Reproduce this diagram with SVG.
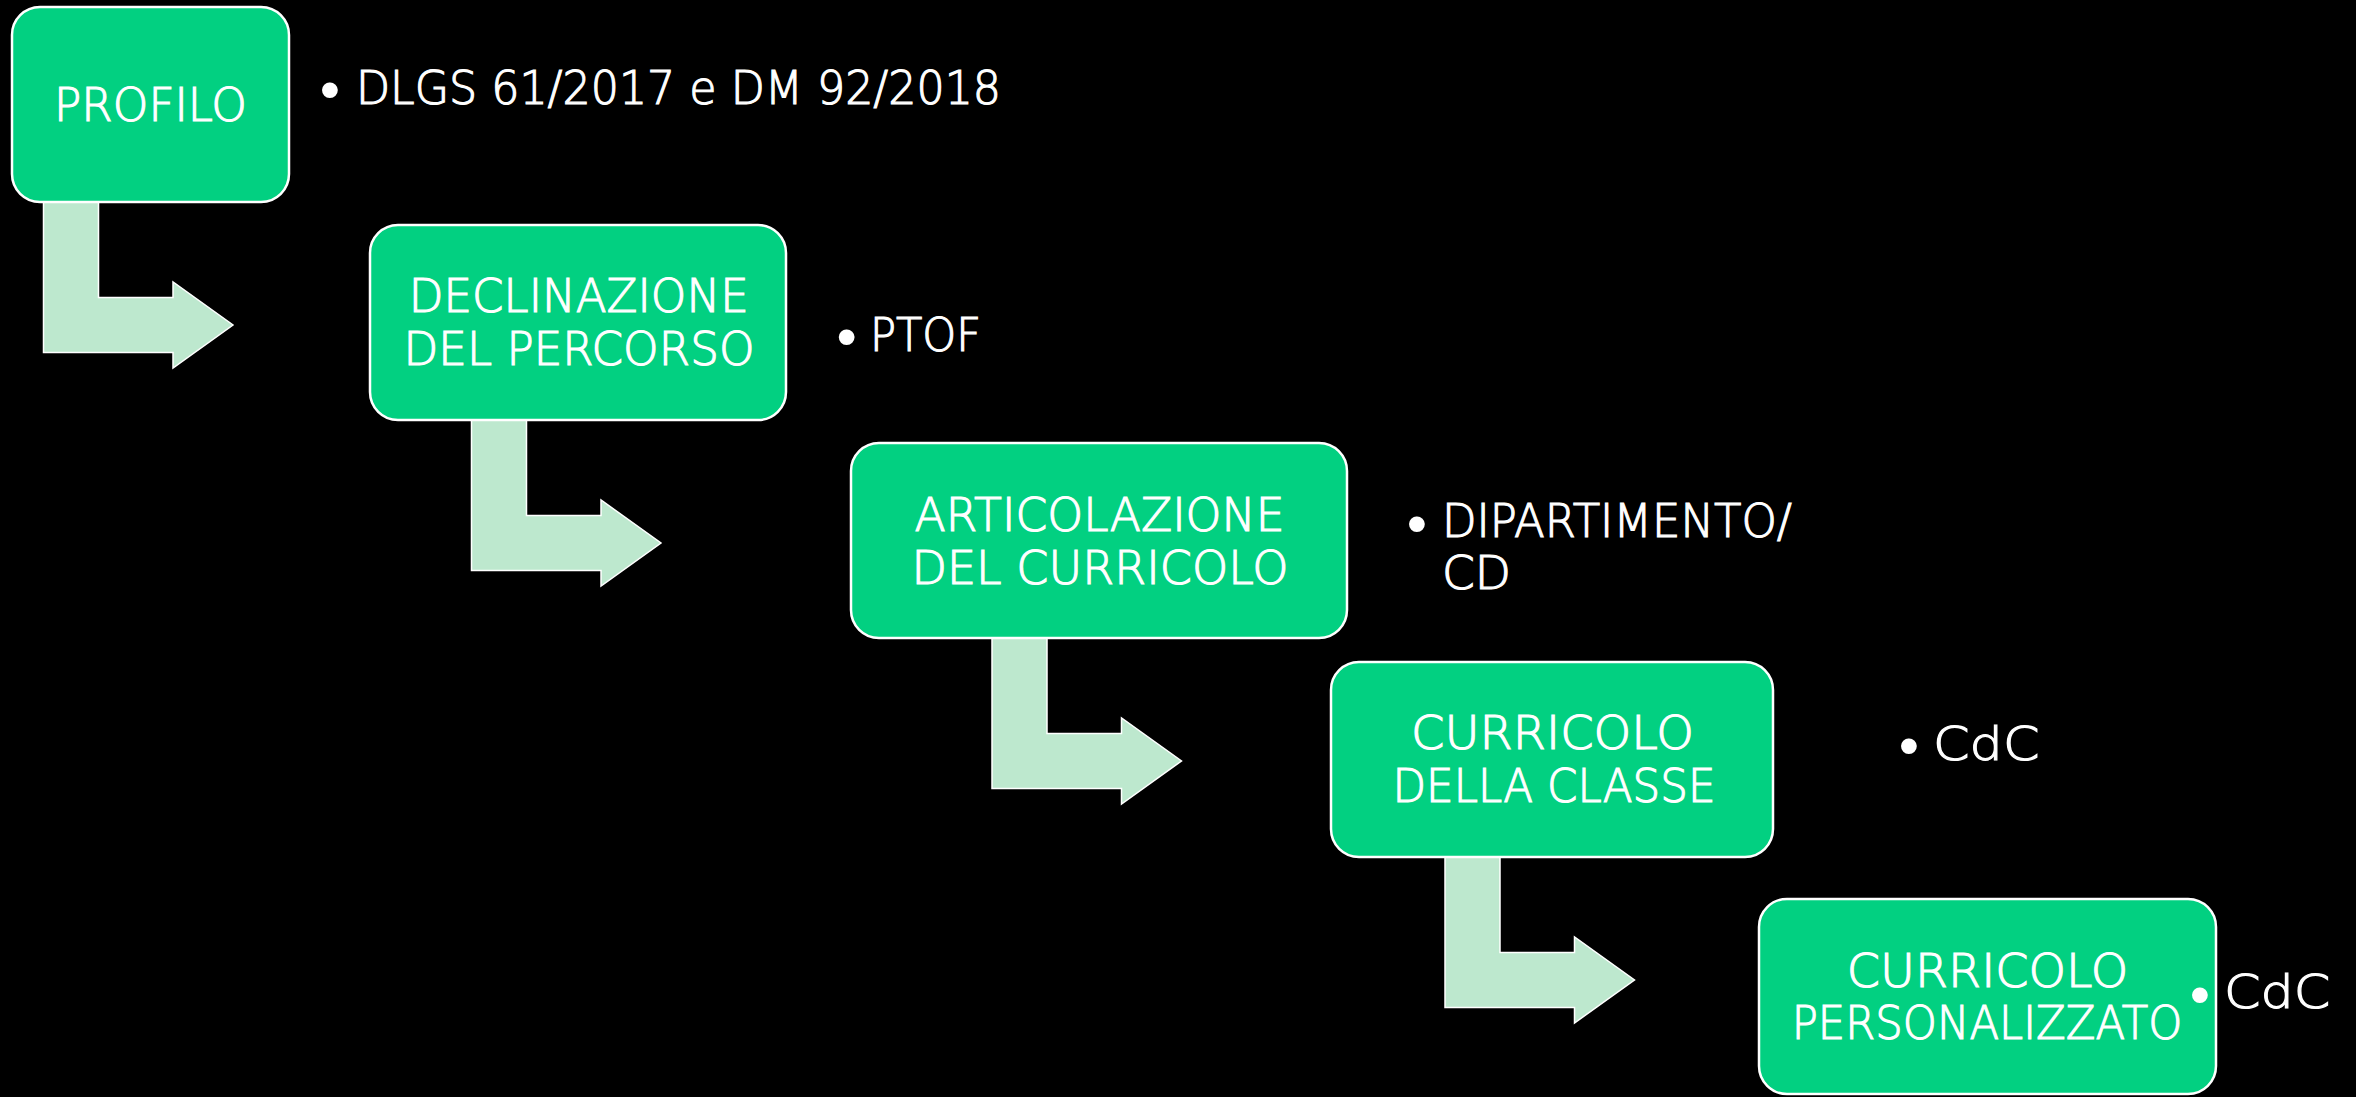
<svg xmlns="http://www.w3.org/2000/svg" width="2356" height="1097" viewBox="0 0 2356 1097">
<style>
.box{fill:#02D081;stroke:#FFFFFF;stroke-width:2.5}
.arr{fill:#BDE8CE;stroke:#FFFFFF;stroke-width:1.5}
.t{font-family:"DejaVu Sans","Liberation Sans",sans-serif;font-size:45.8px;font-weight:200;fill:#FFFFFF;text-anchor:middle;stroke:#FFFFFF;stroke-width:1.1px}
.b{font-family:"DejaVu Sans","Liberation Sans",sans-serif;font-size:45.5px;font-weight:200;fill:#FFFFFF;stroke:#FFFFFF;stroke-width:1.1px}
.dot{font-family:"Liberation Sans",Arial,sans-serif;font-size:58px;fill:#FFFFFF;text-anchor:middle}
</style>
<defs>
<path id="bent" d="M0,0 H55 V95.5 H129.5 V80 L189.5,123 L129.5,166 V150.5 H0 Z"/>
</defs>
<rect width="2356" height="1097" fill="#000000"/>
<g id="connectors">
<use href="#bent" class="arr" transform="translate(43.5,202)"/>
<use href="#bent" class="arr" transform="translate(471.5,420)"/>
<use href="#bent" class="arr" transform="translate(992,638)"/>
<use href="#bent" class="arr" transform="translate(1445,857)"/>
</g>
<g id="node-profilo">
<rect class="box" x="12" y="7" width="277" height="195" rx="28"/>
<text class="t" x="150.5" y="121" textLength="193" lengthAdjust="spacingAndGlyphs">PROFILO</text>
</g>
<g id="node-declinazione">
<rect class="box" x="370" y="225" width="416" height="195" rx="28"/>
<text class="t" x="578.7" y="312" textLength="340" lengthAdjust="spacingAndGlyphs">DECLINAZIONE</text>
<text class="t" x="579" y="365" textLength="351" lengthAdjust="spacingAndGlyphs">DEL PERCORSO</text>
</g>
<g id="node-articolazione">
<rect class="box" x="851" y="443" width="496" height="195" rx="28"/>
<text class="t" x="1099.5" y="531" textLength="370" lengthAdjust="spacingAndGlyphs">ARTICOLAZIONE</text>
<text class="t" x="1100" y="584" textLength="377" lengthAdjust="spacingAndGlyphs">DEL CURRICOLO</text>
</g>
<g id="node-classe">
<rect class="box" x="1331" y="662" width="442" height="195" rx="28"/>
<text class="t" x="1552.5" y="748.5" textLength="283" lengthAdjust="spacingAndGlyphs">CURRICOLO</text>
<text class="t" x="1554" y="801.7" textLength="323" lengthAdjust="spacingAndGlyphs">DELLA CLASSE</text>
</g>
<g id="node-personalizzato">
<rect class="box" x="1759" y="899" width="457" height="195" rx="28"/>
<text class="t" x="1987.6" y="986.7" textLength="281.5" lengthAdjust="spacingAndGlyphs">CURRICOLO</text>
<text class="t" x="1987" y="1039" textLength="390.6" lengthAdjust="spacingAndGlyphs">PERSONALIZZATO</text>
</g>
<g id="note-profilo">
<text class="dot" x="330" y="108.9">•</text>
<text class="b" x="356" y="104" textLength="645" lengthAdjust="spacingAndGlyphs">DLGS 61/2017 e DM 92/2018</text>
</g>
<g id="note-declinazione">
<text class="dot" x="846.7" y="355.9">•</text>
<text class="b" x="870" y="350.7" textLength="111" lengthAdjust="spacingAndGlyphs">PTOF</text>
</g>
<g id="note-articolazione">
<text class="dot" x="1417" y="542.9">•</text>
<text class="b" x="1442" y="536.7" textLength="350" lengthAdjust="spacingAndGlyphs">DIPARTIMENTO/</text>
<text class="b" x="1442" y="589.3" textLength="69" lengthAdjust="spacingAndGlyphs">CD</text>
</g>
<g id="note-classe">
<text class="dot" x="1909" y="764.9">•</text>
<text class="b" x="1933" y="760" textLength="106.5" lengthAdjust="spacingAndGlyphs">CdC</text>
</g>
<g id="note-personalizzato">
<text class="dot" x="2200" y="1013.6">•</text>
<text class="b" x="2224" y="1008.3" textLength="106.4" lengthAdjust="spacingAndGlyphs">CdC</text>
</g>
</svg>
